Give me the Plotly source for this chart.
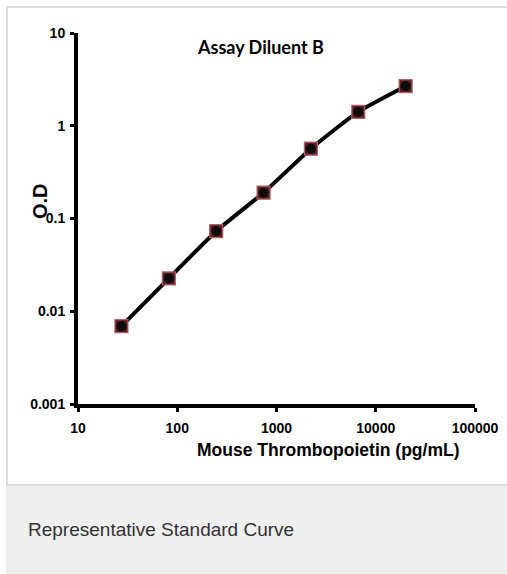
import plotly.graph_objects as go

# Data
concentration = [27.4, 82.3, 247, 741, 2222, 6667, 20000]
od_values = [0.0069, 0.0226, 0.073, 0.19, 0.566, 1.41, 2.67]
x_tick_vals = [10, 100, 1000, 10000, 100000]
x_tick_text = ["10", "100", "1000", "10000", "100000"]
y_tick_vals = [0.001, 0.01, 0.1, 1, 10]
y_tick_text = ["0.001", "0.01", "0.1", "1", "10"]

W, H = 507, 574
SANS = "Liberation Sans, Arial, sans-serif"
TITLE_FONT = "Lato, Carlito, Liberation Sans, sans-serif"


def px_x(p):
    return p / W


def px_y(p):
    return 1 - p / H


fig = go.Figure()

fig.add_trace(go.Scatter(
    x=concentration, y=od_values, mode="lines",
    line=dict(color="black", width=4, shape="spline", smoothing=0.6),
    hoverinfo="skip", showlegend=False,
))
fig.add_trace(go.Scatter(
    x=concentration, y=od_values, mode="markers",
    marker=dict(symbol="square", size=13, color="#5e1c24",
                line=dict(width=1.2, color="#a8606a")),
    showlegend=False,
))
fig.add_trace(go.Scatter(
    x=concentration, y=od_values, mode="markers",
    marker=dict(symbol="circle", size=10, color="#0c0c0c", line=dict(width=0)),
    showlegend=False,
))

axis_common = dict(
    showline=True, linewidth=4, linecolor="black",
    ticks="outside", ticklen=4, tickwidth=3, tickcolor="black",
    showgrid=False, zeroline=False, automargin=False,
    tickfont=dict(family=SANS, size=14, color="black", weight="bold"),
)

fig.update_layout(
    width=W, height=H,
    margin=dict(l=0, r=0, t=0, b=0, pad=0),
    paper_bgcolor="white", plot_bgcolor="white",
    xaxis=dict(type="log", range=[1, 5], domain=[px_x(78), px_x(475)],
               tickvals=x_tick_vals, ticktext=x_tick_text, anchor="y",
               ticklabelstandoff=4, **axis_common),
    yaxis=dict(type="log", range=[-3, 1], domain=[px_y(404), px_y(33)],
               tickvals=y_tick_vals, ticktext=y_tick_text, anchor="x",
               ticklabelstandoff=2, **axis_common),
    shapes=[
        dict(type="rect", xref="paper", yref="paper",
             x0=px_x(6), x1=px_x(512), y0=px_y(574), y1=px_y(485),
             line=dict(width=0), fillcolor="#eeefee", layer="below"),
        dict(type="rect", xref="paper", yref="paper",
             x0=px_x(7), x1=px_x(512), y0=px_y(485), y1=px_y(7),
             line=dict(color="#dcdcdc", width=2), fillcolor="rgba(0,0,0,0)", layer="below"),
    ],
    annotations=[
        dict(text="<b>Assay Diluent B</b>", xref="paper", yref="paper",
             x=px_x(260), y=px_y(47), xanchor="center", yanchor="middle",
             showarrow=False, font=dict(family=TITLE_FONT, size=18, color="black")),
        dict(text="<b>Mouse Thrombopoietin (pg/mL)</b>", xref="paper", yref="paper",
             x=px_x(328), y=px_y(450), xanchor="center", yanchor="middle",
             showarrow=False, font=dict(family=SANS, size=17.5, color="black")),
        dict(text="<b>O.D</b>", xref="paper", yref="paper",
             x=px_x(40), y=px_y(201), xanchor="center", yanchor="middle",
             textangle=-90, showarrow=False,
             font=dict(family=SANS, size=20, color="black")),
        dict(text="Representative Standard Curve", xref="paper", yref="paper",
             x=px_x(26), y=px_y(529), xanchor="left", yanchor="middle",
             showarrow=False, font=dict(family=SANS, size=19, color="#333333")),
    ],
)

fig.write_html("out.html", config={"displayModeBar": False},
               post_script="document.body.style.margin='0';document.body.style.overflow='hidden';")
